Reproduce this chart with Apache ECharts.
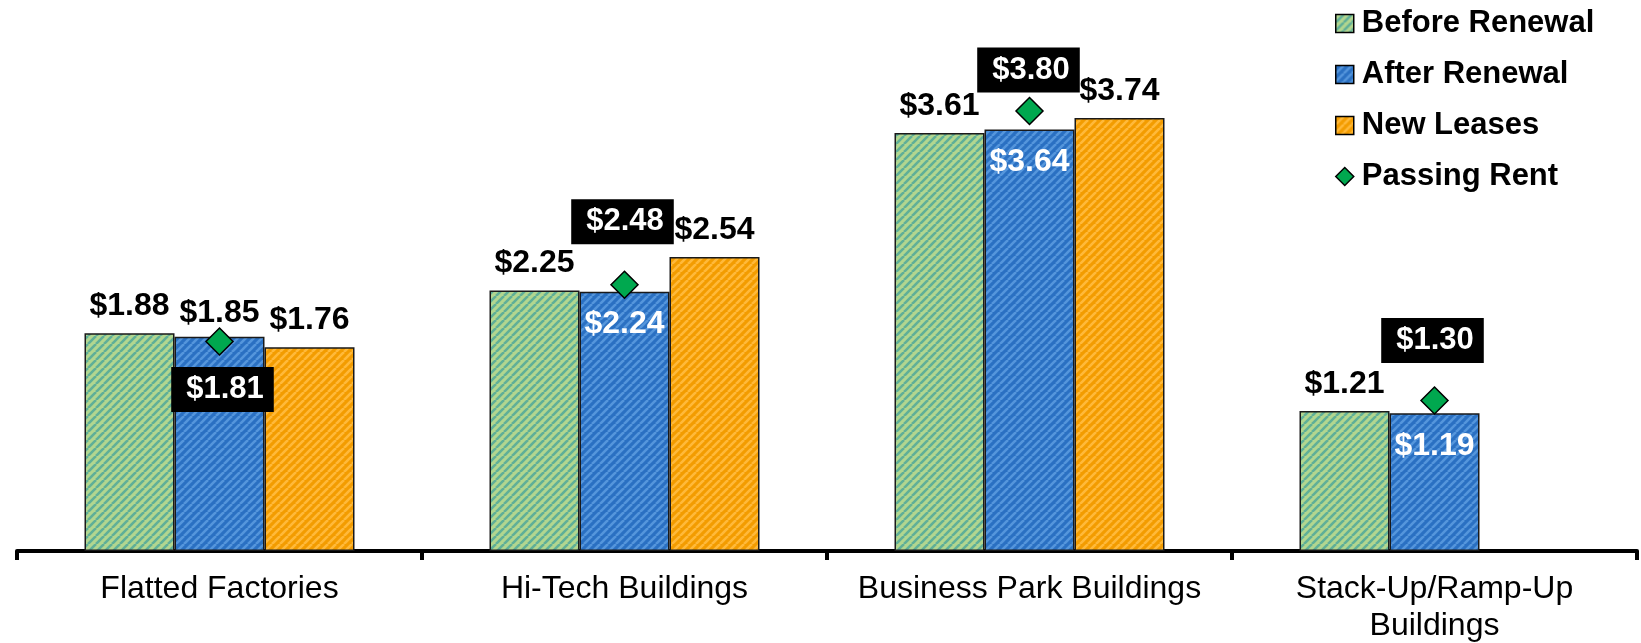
<!DOCTYPE html>
<html>
<head>
<meta charset="utf-8">
<script src="https://cdn.jsdelivr.net/npm/echarts@6/dist/echarts.min.js"></script>
<style>
html,body{margin:0;padding:0;background:#fff;}
#chart{width:1641px;height:643px;}
</style>
</head>
<body>
<div id="chart"></div>
<script>
// ---- data ----
const categories = ['Flatted Factories', 'Hi-Tech Buildings', 'Business Park Buildings', 'Stack-Up/Ramp-Up\nBuildings'];
const beforeRenewal = [1.88, 2.25, 3.61, 1.21];
const afterRenewal = [1.85, 2.24, 3.64, 1.19];
const newLeases = [1.76, 2.54, 3.74, null];
const passingRent = [1.81, 2.30, 3.80, 1.30];          // marker heights as drawn in the reference
const passingRentLabels = ['$1.81', '$2.48', '$3.80', '$1.30'];
const seriesNames = ['Before Renewal', 'After Renewal', 'New Leases', 'Passing Rent'];

// ---- styles ----
const FONT = "'Liberation Sans', Arial, sans-serif";
function stripes(base, stripe) {
  const s = 8;
  const c = document.createElement('canvas');
  c.width = s; c.height = s;
  const g = c.getContext('2d');
  g.fillStyle = base; g.fillRect(0, 0, s, s);
  g.strokeStyle = stripe; g.lineWidth = 2.6;
  for (const o of [-s, 0, s]) {
    g.beginPath(); g.moveTo(o, s); g.lineTo(o + s, 0); g.stroke();
  }
  return { image: c, repeat: 'repeat' };
}
const greenFill = stripes('#b2d68f', '#5faf98');
const blueFill = stripes('#2a70c2', '#5596dc');
const orangeFill = stripes('#f39c00', '#ffb93a');

const afterInside = [false, true, true, true];
const rentOffsets = [[3, 48], [-2, -63], [-1, -41], [-2, -60]];

const topLabel = {
  show: true, position: 'top', distance: 11,
  color: '#000', fontFamily: FONT, fontWeight: 'bold', fontSize: 32,
  formatter: p => '$' + p.value.toFixed(2)
};
const barBorder = { borderColor: '#1a1a1a', borderWidth: 1.5 };

const chart = echarts.init(document.getElementById('chart'), null, { renderer: 'canvas' });
chart.setOption({
  animation: false,
  backgroundColor: '#fff',
  grid: { left: 17, right: 4, top: 30, bottom: 92, containLabel: false, outerBoundsMode: 'none' },
  legend: {
    orient: 'vertical', left: 1330, top: 3,
    itemWidth: 18, itemHeight: 18, itemGap: 20,
    textStyle: { fontFamily: FONT, fontWeight: 'bold', fontSize: 31, color: '#000', padding: [0, 0, 0, 3] },
    data: [
      { name: seriesNames[0], icon: 'rect', itemStyle: { color: greenFill, borderColor: '#000', borderWidth: 1.5 } },
      { name: seriesNames[1], icon: 'rect', itemStyle: { color: blueFill, borderColor: '#000', borderWidth: 1.5 } },
      { name: seriesNames[2], icon: 'rect', itemStyle: { color: orangeFill, borderColor: '#000', borderWidth: 1.5 } },
      { name: seriesNames[3], icon: 'diamond', itemStyle: { color: '#00a84f', borderColor: '#000', borderWidth: 1.5, opacity: 1 } }
    ]
  },
  xAxis: {
    type: 'category', data: categories,
    axisLine: { lineStyle: { color: '#000', width: 4 } },
    axisTick: { show: true, interval: 0, length: 9, lineStyle: { color: '#000', width: 4 } },
    axisLabel: { interval: 0, fontFamily: FONT, fontSize: 32, color: '#000', margin: 20, lineHeight: 37 }
  },
  yAxis: { type: 'value', min: 0, max: 4.5, show: false, splitLine: { show: false } },
  series: [
    {
      name: seriesNames[0], type: 'bar', data: beforeRenewal,
      barWidth: 90, barGap: '0%',
      itemStyle: Object.assign({ color: greenFill }, barBorder),
      label: topLabel
    },
    {
      name: seriesNames[1], type: 'bar',
      data: afterRenewal.map((v, i) => ({
        value: v,
        label: afterInside[i]
          ? { show: true, position: 'insideTop', distance: 17, color: '#fff' }
          : { show: true, position: 'top', distance: 8, color: '#000' }
      })),
      barWidth: 90, barGap: '0%',
      itemStyle: Object.assign({ color: blueFill }, barBorder),
      label: topLabel
    },
    {
      name: seriesNames[2], type: 'bar', data: newLeases,
      barWidth: 90, barGap: '0%',
      itemStyle: Object.assign({ color: orangeFill }, barBorder),
      label: topLabel
    },
    {
      name: seriesNames[3], type: 'scatter', symbol: 'diamond', symbolSize: 27,
      z: 5,
      itemStyle: { color: '#00a84f', borderColor: '#000', borderWidth: 1.5, opacity: 1 },
      data: passingRent.map((v, i) => ({
        value: v,
        label: {
          show: true, position: 'inside', offset: rentOffsets[i],
          formatter: passingRentLabels[i]
        }
      })),
      label: {
        show: true, color: '#fff', backgroundColor: '#000', opacity: 1,
        fontFamily: FONT, fontWeight: 'bold', fontSize: 31,
        padding: [7, 10, 7, 15]
      }
    }
  ]
});
</script>
</body>
</html>
